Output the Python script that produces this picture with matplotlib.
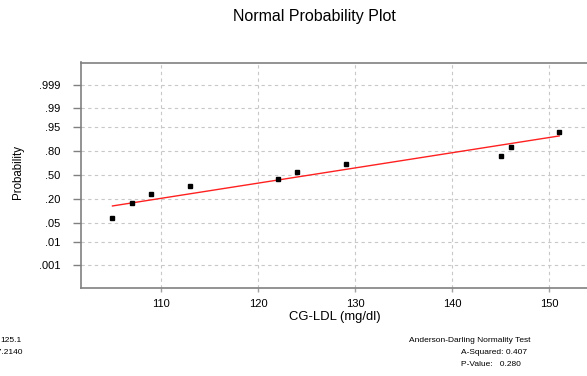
import matplotlib
matplotlib.use("Agg")
import matplotlib.pyplot as plt
from statistics import NormalDist

plt.rcParams['font.family'] = ['Liberation Sans', 'DejaVu Sans']

# data
ldl = [105, 107, 109, 113, 122, 124, 129, 145, 146, 151]
prob = [0.067, 0.164, 0.260, 0.356, 0.452, 0.548, 0.644, 0.740, 0.837, 0.933]
fit_x = [105, 151]
fit_p = [0.143, 0.911]
tick_p = [0.001, 0.01, 0.05, 0.20, 0.50, 0.80, 0.95, 0.99, 0.999]
tick_lbl = ['.001', '.01', '.05', '.20', '.50', '.80', '.95', '.99', '.999']
x_ticks = [110, 120, 130, 140, 150]
mean_txt = '125.1'
sd_txt = '17.2140'
ad_sq = '0.407'
ad_p = '0.280'

nd = NormalDist()


def z(ps):
    return [nd.inv_cdf(p) for p in ps]


W, H = 587, 376
fig = plt.figure(figsize=(W / 100, H / 100), dpi=100)
ax = fig.add_axes([81 / W, 1 - 287.7 / H, (598 - 81) / W, (287.7 - 62.5) / H])

ax.plot(fit_x, z(fit_p), color='#ff2020', lw=1.0, zorder=3)
ax.plot(ldl, z(prob), 's', color='black', ms=3.2, zorder=4)

ax.set_xlim(101.76, 155)
ax.set_ylim(-3.886, 3.88)
ax.set_xticks(x_ticks)
ax.set_yticks(z(tick_p))
ax.set_yticklabels(tick_lbl)
ax.grid(color='#c8c8c8', linestyle=(0, (3, 3)), linewidth=0.8)

for s in ['left', 'bottom', 'top', 'right']:
    ax.spines[s].set_color('#808080')
    ax.spines[s].set_linewidth(1.2)
ax.tick_params(axis='y', length=6, width=1, color='#808080', pad=9, labelsize=8)
ax.tick_params(axis='x', length=3, width=1, color='#a0a0a0', pad=5, labelsize=8)

fig.text(314 / W, 1 - 17 / H, 'Normal Probability Plot', ha='center', va='center', fontsize=11.5)
fig.text(335 / W, 1 - 317 / H, 'CG-LDL (mg/dl)', ha='center', va='center', fontsize=9.4)
fig.text(18 / W, 1 - 172 / H, 'Probability', ha='center', va='center', rotation=90, fontsize=8.3)

# mean / stdev box, cut by the left edge as in the reference
fig.text(22 / W, 1 - 341 / H, mean_txt, ha='right', va='center', fontsize=6)
fig.text(23 / W, 1 - 352.5 / H, sd_txt, ha='right', va='center', fontsize=6)

fig.text(409 / W, 1 - 341 / H, 'Anderson-Darling Normality Test', ha='left', va='center', fontsize=6)
fig.text(461 / W, 1 - 352.5 / H, 'A-Squared: ' + ad_sq, ha='left', va='center', fontsize=6)
fig.text(461 / W, 1 - 365 / H, 'P-Value:   ' + ad_p, ha='left', va='center', fontsize=6)

fig.savefig('out.png', dpi=100)
